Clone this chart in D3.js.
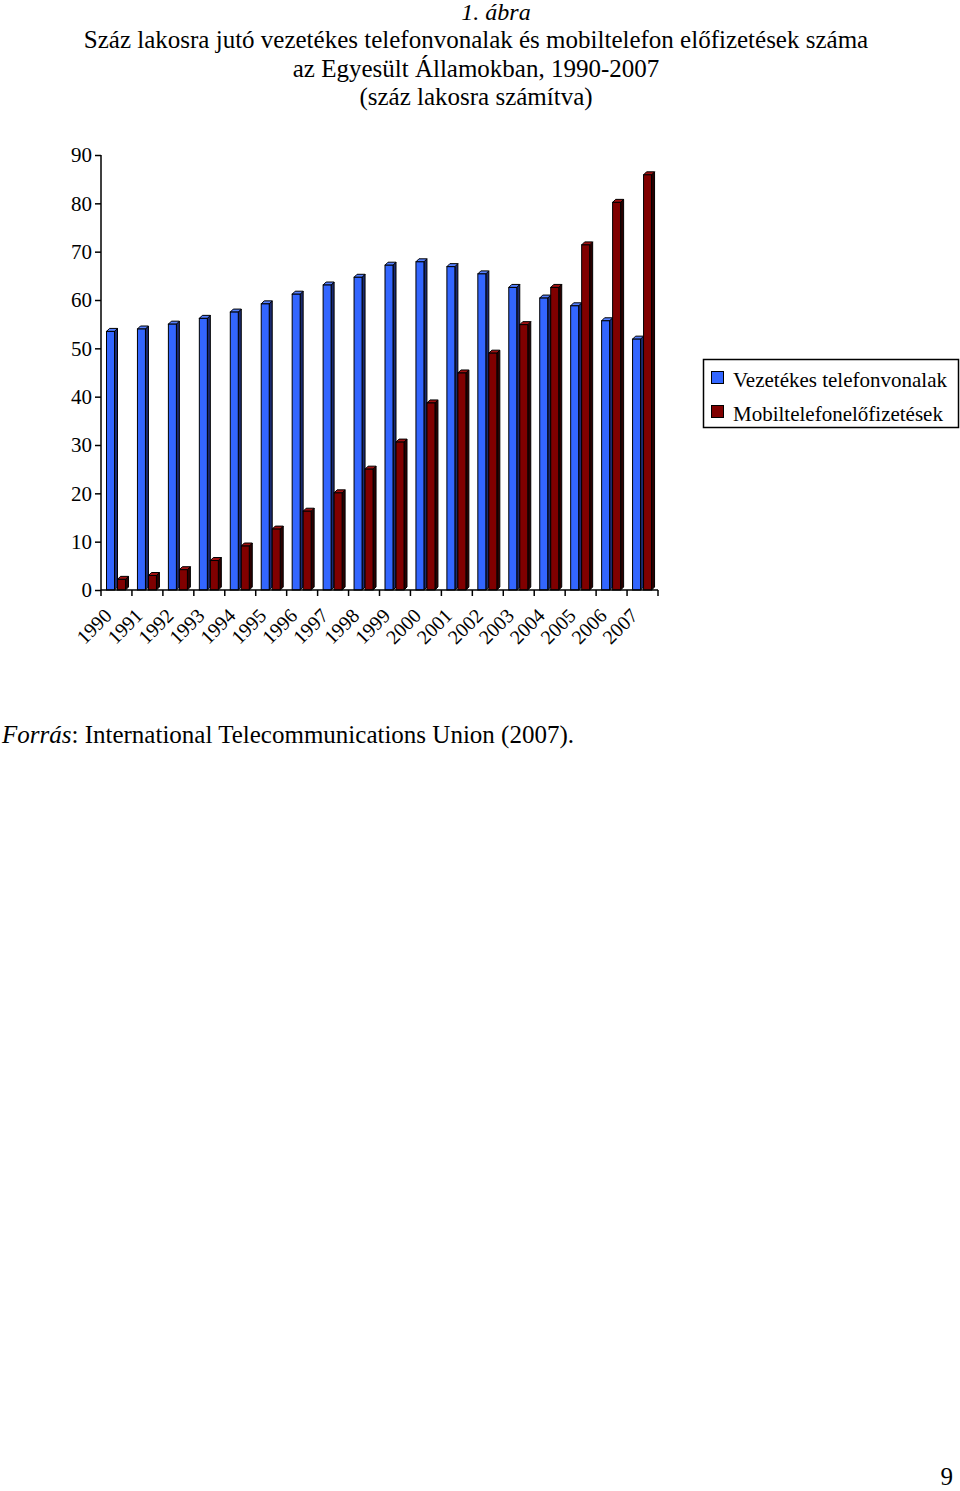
<!DOCTYPE html>
<html>
<head>
<meta charset="utf-8">
<script src="https://cdn.jsdelivr.net/npm/d3@7"></script>
<style>
  html, body { margin: 0; padding: 0; background: #fff; }
  svg { display: block; }
  text { font-family: "Liberation Serif", "Times New Roman", serif; fill: #000; }
</style>
</head>
<body>
<script>
// ---- data ----
const years = ["1990","1991","1992","1993","1994","1995","1996","1997","1998","1999","2000","2001","2002","2003","2004","2005","2006","2007"];
const fixedLines = [53.5, 54.0, 55.0, 56.2, 57.5, 59.2, 61.2, 63.1, 64.7, 67.2, 67.9, 66.9, 65.4, 62.6, 60.4, 58.8, 55.7, 51.9];
const mobileSubs = [2.2, 3.0, 4.2, 6.1, 9.1, 12.6, 16.3, 20.1, 25.0, 30.6, 38.7, 44.9, 49.0, 54.9, 62.6, 71.4, 80.2, 85.9];
const seriesNames = ["Vezetékes telefonvonalak", "Mobiltelefonelőfizetések"];
const yTicks = [0, 10, 20, 30, 40, 50, 60, 70, 80, 90];
const titleLines = ["Száz lakosra jutó vezetékes telefonvonalak és mobiltelefon előfizetések száma",
                    "az Egyesült Államokban, 1990-2007",
                    "(száz lakosra számítva)"];

const W = 960, H = 1491;
const svg = d3.select("body").append("svg").attr("width", W).attr("height", H);

// Title
svg.append("text").attr("x", 496).attr("y", 20).attr("text-anchor", "middle")
  .style("font-size", "24px").style("font-style", "italic").text("1. ábra");
titleLines.forEach((t, i) => {
  svg.append("text").attr("x", 476).attr("y", 48 + i * 28.5).attr("text-anchor", "middle")
    .style("font-size", "25px").text(t);
});

// Scales
const x = d3.scaleBand().domain(years).range([101, 658]).padding(0);
const sub = d3.scaleBand().domain([0, 1]).range([5.5, 27.5]).padding(0);
const y = d3.scaleLinear().domain([0, 90]).range([590, 155]);

const frontW = 8, dep = 3;
const colors = [
  { front: "#3366ff", side: "#1a2a70", top: "#5580ff" },
  { front: "#800000", side: "#2a0000", top: "#a01010" }
];

const data = [];
years.forEach((yr, i) => {
  data.push({ yr, s: 0, v: fixedLines[i] });
  data.push({ yr, s: 1, v: mobileSubs[i] });
});

const g = svg.append("g");
const bars = g.selectAll("g.bar").data(data).join("g").attr("class", "bar");
bars.each(function(d) {
  const sel = d3.select(this);
  const x0 = x(d.yr) + sub(d.s);
  const x1 = x0 + frontW;
  const yt = y(d.v), yb = y(0);
  const c = colors[d.s];
  sel.append("path")
    .attr("d", `M${x1},${yb}L${x1},${yt}L${x1 + dep},${yt - dep}L${x1 + dep},${yb - dep}Z`)
    .attr("fill", c.side).attr("stroke", "#000").attr("stroke-width", 1);
  sel.append("path")
    .attr("d", `M${x0},${yt}L${x0 + dep},${yt - dep}L${x1 + dep},${yt - dep}L${x1},${yt}Z`)
    .attr("fill", c.top).attr("stroke", "#000").attr("stroke-width", 1);
  sel.append("rect").attr("x", x0).attr("y", yt).attr("width", frontW).attr("height", yb - yt)
    .attr("fill", c.front).attr("stroke", "#000").attr("stroke-width", 1);
});

// Y axis
const yAxis = d3.axisLeft(y).tickValues(yTicks).tickSize(6).tickPadding(3).tickFormat(d3.format("d"));
const ya = svg.append("g").attr("transform", "translate(101,0)").call(yAxis);
ya.select(".domain").attr("stroke", "#000").attr("stroke-width", 1.5).attr("d", `M0,${y(90)}V${y(0)}`);
ya.selectAll(".tick line").attr("stroke", "#000").attr("stroke-width", 1.5);
ya.selectAll(".tick text").style("font-size", "21px").style("font-family", "Liberation Serif").attr("fill", "#000");

// X axis
const xa = svg.append("g").attr("transform", "translate(0,590)");
xa.append("line").attr("x1", 101).attr("x2", 658).attr("y1", 0).attr("y2", 0).attr("stroke", "#000").attr("stroke-width", 1.5);
const edges = years.map(yr => x(yr)).concat([x(years[years.length - 1]) + x.bandwidth()]);
xa.selectAll("line.tk").data(edges).join("line").attr("class", "tk")
  .attr("x1", d => d).attr("x2", d => d).attr("y1", 0).attr("y2", 6)
  .attr("stroke", "#000").attr("stroke-width", 1.5);
xa.selectAll("text.lbl").data(years).join("text").attr("class", "lbl")
  .attr("text-anchor", "end")
  .attr("transform", d => `translate(${x(d) + x.bandwidth() / 2 - 3.5},${27}) rotate(-45)`)
  .style("font-size", "20px").text(d => d);

// Legend
const lg = svg.append("g");
lg.append("rect").attr("x", 703.5).attr("y", 359.5).attr("width", 255).attr("height", 68)
  .attr("fill", "#fff").attr("stroke", "#000").attr("stroke-width", 1.5);
seriesNames.forEach((n, i) => {
  lg.append("rect").attr("x", 711.5).attr("y", 371.5 + i * 34).attr("width", 12).attr("height", 12)
    .attr("fill", colors[i].front).attr("stroke", "#000").attr("stroke-width", 1);
  lg.append("text").attr("x", 733).attr("y", 387 + i * 34).style("font-size", "21px").text(n);
});

// Source
const src = svg.append("text").attr("x", 2).attr("y", 743).style("font-size", "25px");
src.append("tspan").style("font-style", "italic").text("Forrás");
src.append("tspan").text(": International Telecommunications Union (2007).");

// Page number
svg.append("text").attr("x", 953).attr("y", 1485).attr("text-anchor", "end").style("font-size", "25px").text("9");
</script>
</body>
</html>
